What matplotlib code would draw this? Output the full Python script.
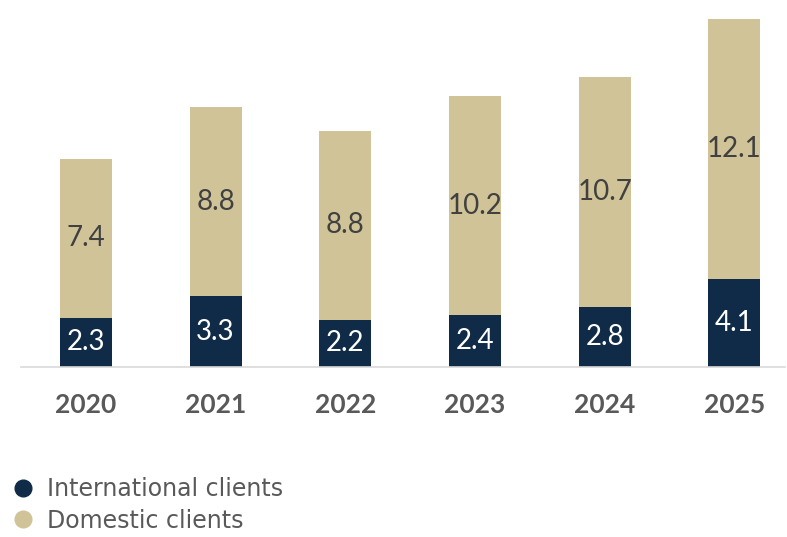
import matplotlib
matplotlib.use("Agg")
import matplotlib.pyplot as plt
from matplotlib.lines import Line2D

years = ["2020", "2021", "2022", "2023", "2024", "2025"]
international = [2.3, 3.3, 2.2, 2.4, 2.8, 4.1]
domestic = [7.4, 8.8, 8.8, 10.2, 10.7, 12.1]

navy = "#0F2B47"
tan = "#CFC397"

fig = plt.figure(figsize=(7.87, 5.37), dpi=100)
W, H = 787, 537
left, right, top, base = 21, 785, 19, 367
ax = fig.add_axes([left / W, (H - base) / H, (right - left) / W, (base - top) / H])

x = list(range(len(years)))
bw = 0.40
ax.bar(x, international, width=bw, color=navy, zorder=2)
ax.bar(x, domestic, width=bw, bottom=international, color=tan, zorder=2)

for i in x:
    ax.text(i, international[i] / 2, f"{international[i]:.1f}", ha="center", va="center",
            color="white", fontsize=20, family="Lato")
    ax.text(i, international[i] + domestic[i] / 2, f"{domestic[i]:.1f}", ha="center", va="center",
            color="#404040", fontsize=20, family="Lato")

ax.set_xlim(-0.5, 5.39)
ax.set_ylim(0, 16.2)
ax.set_xticks(x)
ax.set_xticklabels(years, fontsize=19, fontweight="bold", color="#595959", family="Lato")
ax.tick_params(axis="x", length=0, pad=19)
ax.set_yticks([])
for s in ["top", "right", "left"]:
    ax.spines[s].set_visible(False)
ax.spines["bottom"].set_color("#D9D9D9")
ax.spines["bottom"].set_linewidth(1.2)

handles = [
    Line2D([], [], marker="o", linestyle="none", color=navy, markersize=12),
    Line2D([], [], marker="o", linestyle="none", color=tan, markersize=12),
]
fig.legend(handles, ["International clients", "Domestic clients"],
           loc="upper left", bbox_to_anchor=(-3 / W, 1 - 468 / H), frameon=False,
           prop={"size": 17, "family": "DejaVu Sans"}, labelcolor="#595959",
           handletextpad=0.3, labelspacing=0.3, handlelength=1.4, borderaxespad=0)

fig.savefig("out.png", dpi=100)
